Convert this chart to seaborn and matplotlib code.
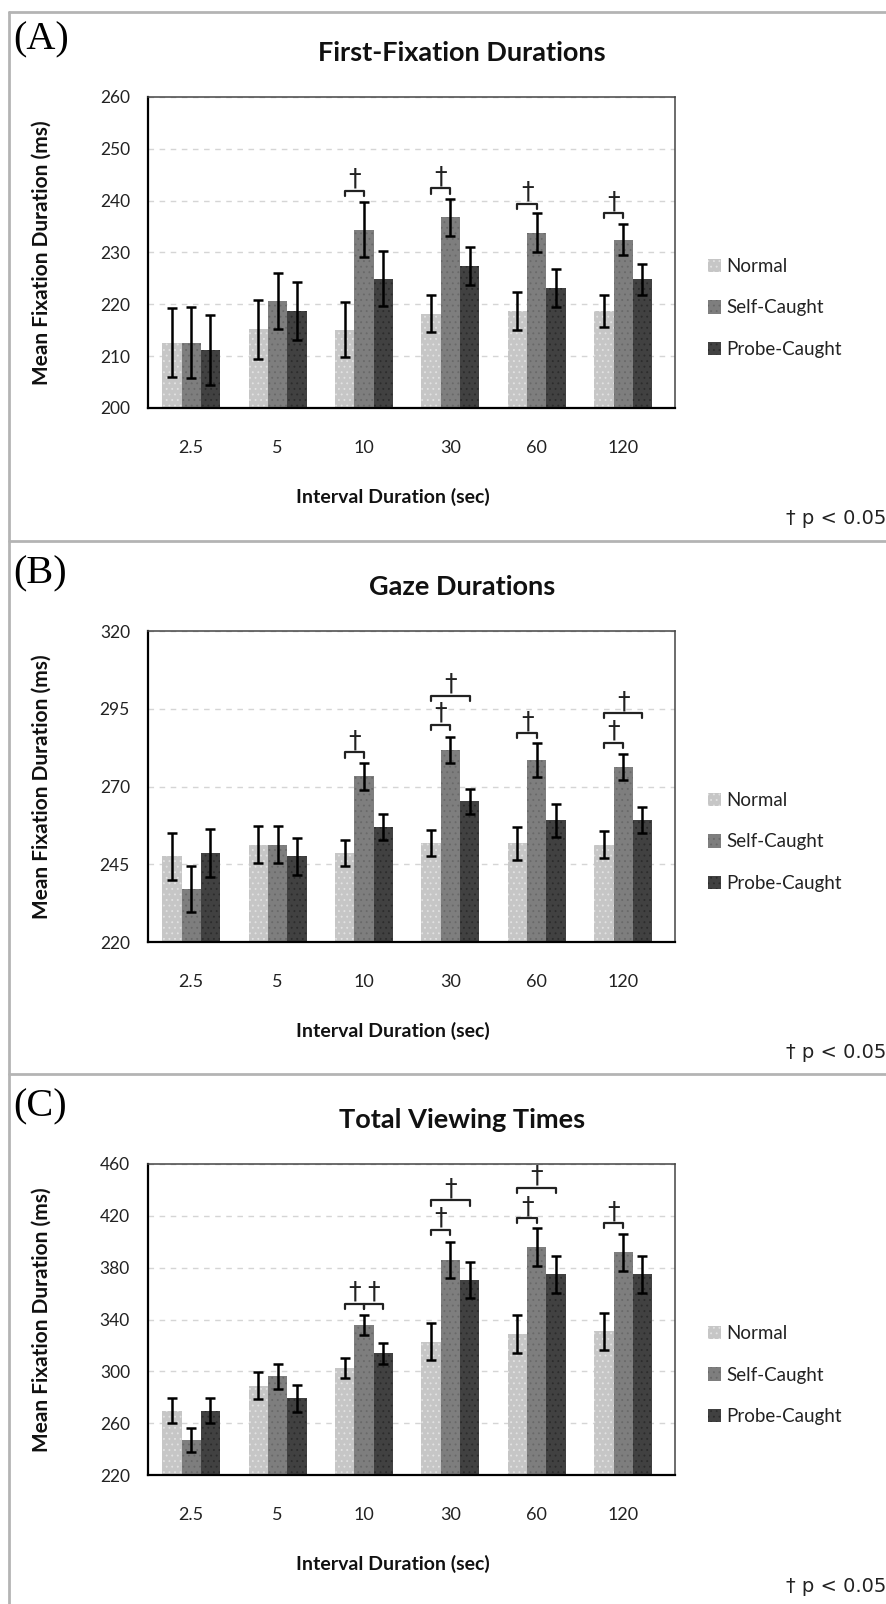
import numpy as np
import pandas as pd
import matplotlib
matplotlib.use('Agg')
import matplotlib.pyplot as plt
from matplotlib.patches import Patch
from matplotlib.lines import Line2D
import seaborn as sns

# categories
intervals = ['2.5', '5', '10', '30', '60', '120']
conditions = ['Normal', 'Self-Caught', 'Probe-Caught']

# (A) first-fixation durations
ffd_normal = [212.6, 215.2, 215.1, 218.2, 218.7, 218.7]
ffd_self = [212.6, 220.6, 234.4, 236.8, 233.8, 232.5]
ffd_probe = [211.2, 218.8, 224.9, 227.4, 223.2, 224.8]
ffd_err_normal = [6.6, 5.7, 5.3, 3.6, 3.6, 3.1]
ffd_err_self = [6.8, 5.4, 5.3, 3.6, 3.8, 3.0]
ffd_err_probe = [6.7, 5.6, 5.3, 3.6, 3.7, 3.0]

# (B) gaze durations
gaze_normal = [247.5, 251.3, 248.6, 251.8, 251.8, 251.3]
gaze_self = [237.0, 251.3, 273.3, 281.8, 278.6, 276.3]
gaze_probe = [248.6, 247.5, 257.0, 265.2, 259.1, 259.3]
gaze_err_normal = [7.6, 6.0, 4.2, 4.1, 5.3, 4.3]
gaze_err_self = [7.4, 6.0, 4.4, 4.2, 5.5, 4.3]
gaze_err_probe = [7.6, 6.0, 4.2, 4.0, 5.4, 4.2]

# (C) total viewing times
tvt_normal = [269.7, 289.0, 302.4, 323.0, 328.9, 331.0]
tvt_self = [247.0, 296.2, 335.9, 386.1, 395.9, 392.0]
tvt_probe = [269.7, 279.2, 314.0, 370.7, 374.8, 374.8]
tvt_err_normal = [9.9, 10.3, 7.7, 14.2, 14.5, 14.4]
tvt_err_self = [9.0, 9.7, 7.7, 13.9, 14.4, 14.2]
tvt_err_probe = [9.5, 10.3, 8.0, 13.8, 14.2, 14.2]

# significance brackets: (interval index, cond a, cond b, bracket height)
ffd_sig = [(2, 0, 1, 241.9), (3, 0, 1, 242.4), (4, 0, 1, 239.4), (5, 0, 1, 237.6)]
gaze_sig = [(2, 0, 1, 281.0), (3, 0, 1, 289.9), (3, 0, 2, 299.2),
            (4, 0, 1, 287.2), (5, 0, 1, 284.0), (5, 0, 2, 293.6)]
tvt_sig = [(2, 0, 1, 352.1), (2, 1, 2, 352.1), (3, 0, 1, 409.3), (3, 0, 2, 432.0),
           (4, 0, 1, 418.3), (4, 0, 2, 441.5), (5, 0, 1, 414.4)]

colors = ['#c6c6c6', '#7e7e7e', '#414141']
dot_colors = ['#e2e2e2', '#696969', '#2c2c2c']

sns.set_style('white')
plt.rcParams['font.family'] = ['Lato', 'DejaVu Sans']
plt.rcParams['hatch.linewidth'] = 0.6

W, H = 887, 1604
fig = plt.figure(figsize=(W / 100, H / 100), dpi=100)


def make_df(normal, self_, probe):
    rows = []
    for cond, vals in zip(conditions, [normal, self_, probe]):
        for iv, v in zip(intervals, vals):
            rows.append({'interval': iv, 'condition': cond, 'value': v})
    return pd.DataFrame(rows)


def draw_panel(top_px, means, errs, sig, ylim, ystep, title, label, border_y):
    ax = fig.add_axes([148 / W, 1 - (top_px + 311) / H, 527 / W, 311 / H])
    df = make_df(*means)
    sns.barplot(data=df, x='interval', y='value', hue='condition',
                order=intervals, hue_order=conditions, palette=colors,
                width=0.67, gap=0, saturation=1, errorbar=None,
                legend=False, ax=ax)
    bar_conts = list(ax.containers)
    centers = []
    for i, cont in enumerate(bar_conts):
        xs = [b.get_x() + b.get_width() / 2 for b in cont]
        ys = [b.get_height() for b in cont]
        centers.append(xs)
        for b in cont:
            b.set_edgecolor(dot_colors[i])
            b.set_linewidth(0)
            b.set_hatch('...')
        ax.errorbar(xs, ys, yerr=errs[i], fmt='none', ecolor='black',
                    elinewidth=1.8, capsize=3.6, capthick=1.8, zorder=5)

    span = ylim[1] - ylim[0]
    leg = 0.017 * span
    for gi, a, b, h in sig:
        xa, xb = centers[a][gi], centers[b][gi]
        ax.plot([xa, xa, xb, xb], [h - leg, h, h, h - leg], color='#222222',
                lw=1.6, zorder=6, clip_on=False)
        ax.annotate('\u2020', xy=((xa + xb) / 2, h), xytext=(0, 0),
                    textcoords='offset points', ha='center', va='bottom',
                    fontsize=18, color='#222222', family='DejaVu Sans',
                    annotation_clip=False)

    ax.set_ylim(*ylim)
    ax.set_xlim(-0.5, 5.6)
    ax.set_yticks(np.arange(ylim[0], ylim[1] + 1, ystep))
    ax.yaxis.grid(True, linestyle=(0, (4, 4)), color='#d5d5d5', linewidth=1)
    ax.set_axisbelow(True)
    ax.set_xticks(range(len(intervals)))
    ax.set_xticklabels(intervals)
    ax.set_xticks(np.arange(-0.5, 5.6, 1), minor=True)
    ax.tick_params(axis='x', which='major', length=0, pad=23, labelsize=13,
                   labelcolor='#222222')
    ax.tick_params(axis='x', which='minor', length=6, width=1.3, direction='out',
                   color='black')
    ax.tick_params(axis='y', length=6, width=1.3, direction='out', pad=7,
                   labelsize=12.5, labelcolor='#222222', color='black')
    for s in ['left', 'bottom']:
        ax.spines[s].set_color('black')
        ax.spines[s].set_linewidth(1.6)
    for s in ['top', 'right']:
        ax.spines[s].set_visible(True)
        ax.spines[s].set_color('#444444')
        ax.spines[s].set_linewidth(1.1)
    ax.set_xlabel('')
    ax.set_ylabel('Mean Fixation Duration (ms)', fontsize=15, fontweight='bold',
                  color='#111111')
    ax.yaxis.set_label_coords((52 - 148) / 527, 0.5)

    handles = [Patch(facecolor=colors[i], edgecolor=dot_colors[i], hatch='...',
                     linewidth=0) for i in range(3)]
    fig.legend(handles, conditions, loc='center left',
               bbox_to_anchor=(708 / W, 1 - (top_px + 211) / H),
               frameon=False, fontsize=13.5, handlelength=0.7, handleheight=0.7,
               handletextpad=0.3, labelspacing=1.3, borderpad=0, borderaxespad=0,
               labelcolor='#222222')

    fig.text(462 / W, 1 - (top_px - 44) / H, title, ha='center', va='center',
             fontsize=19.5, fontweight='bold', color='#111111')
    fig.text(393 / W, 1 - (top_px + 400) / H, 'Interval Duration (sec)',
             ha='center', va='center', fontsize=14, fontweight='bold',
             color='#111111')
    fig.text(886 / W, 1 - (top_px + 422) / H, '\u2020 p < 0.05', ha='right',
             va='center', fontsize=14, family='DejaVu Sans', color='#222222')
    fig.text(13 / W, 1 - (top_px - 57) / H, label, ha='left', va='center',
             fontsize=29, family='Liberation Serif', color='black')
    fig.add_artist(Line2D([9 / W, 1], [1 - border_y / H, 1 - border_y / H],
                          color='#b4b4b4', lw=2))
    return ax


draw_panel(97, [ffd_normal, ffd_self, ffd_probe],
           [ffd_err_normal, ffd_err_self, ffd_err_probe], ffd_sig,
           (200, 260), 10, 'First-Fixation Durations', '(A)', 12)
draw_panel(631, [gaze_normal, gaze_self, gaze_probe],
           [gaze_err_normal, gaze_err_self, gaze_err_probe], gaze_sig,
           (220, 320), 25, 'Gaze Durations', '(B)', 541)
draw_panel(1164, [tvt_normal, tvt_self, tvt_probe],
           [tvt_err_normal, tvt_err_self, tvt_err_probe], tvt_sig,
           (220, 460), 40, 'Total Viewing Times', '(C)', 1074)

# left border of the figure frame
fig.add_artist(Line2D([9 / W, 9 / W], [0, 1 - 12 / H], color='#b4b4b4', lw=2))

fig.savefig('out.png', dpi=100)
